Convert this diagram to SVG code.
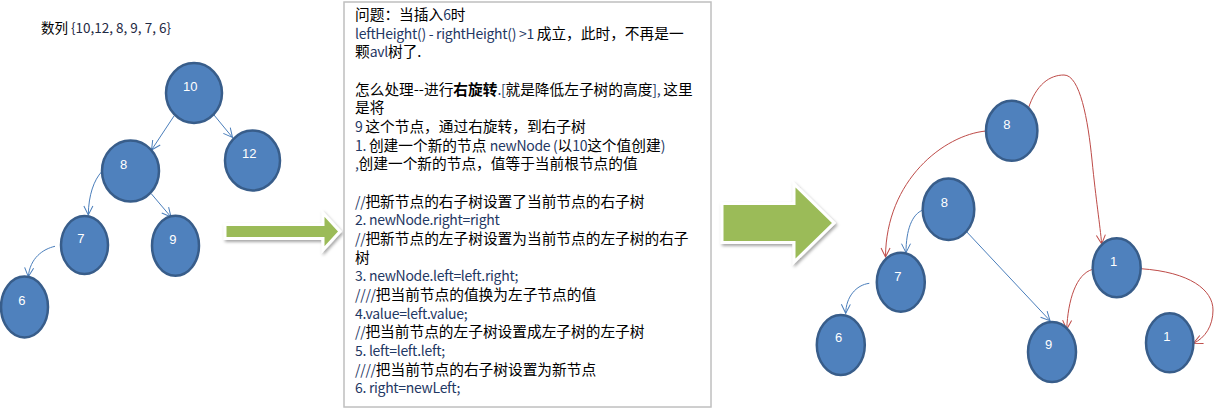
<svg xmlns="http://www.w3.org/2000/svg" width="1214" height="409" viewBox="0 0 1214 409">
<style>
.nd{fill:#4F81BD;stroke:#385D8A;stroke-width:2.5}
.nl{font-family:"Liberation Sans",Arial,sans-serif;font-size:13px;fill:#fff}
.eb{fill:none;stroke:#4A7EBB;stroke-width:1;marker-end:url(#ab)}
.er{fill:none;stroke:#BE4B48;stroke-width:1;marker-end:url(#ar)}
.t{font-family:"Noto Sans CJK SC","Liberation Sans",sans-serif;font-size:14.7px;fill:#000}
.b{fill:#1F3864;font-size:14px;letter-spacing:-0.3px}
.ga{fill:#9BBB59;stroke:#fff;stroke-width:3;stroke-linejoin:miter;filter:url(#sh)}
</style>
<defs>
<marker id="ab" markerWidth="12" markerHeight="12" viewBox="-10 -6 12 12" refX="0" refY="0" orient="auto" markerUnits="userSpaceOnUse"><path d="M-9,-4.5 L0,0 L-9,4.5" fill="none" stroke="#4A7EBB" stroke-width="1"/></marker>
<marker id="ar" markerWidth="12" markerHeight="12" viewBox="-10 -6 12 12" refX="0" refY="0" orient="auto" markerUnits="userSpaceOnUse"><path d="M-9,-4.5 L0,0 L-9,4.5" fill="none" stroke="#BE4B48" stroke-width="1"/></marker>
<filter id="sh" x="-20%" y="-30%" width="150%" height="170%"><feDropShadow dx="1.5" dy="2" stdDeviation="1.5" flood-color="#000" flood-opacity="0.35"/></filter>
</defs>
<rect width="1214" height="409" fill="#fff"/>

<text class="t" x="41" y="32.5" style="font-size:13.5px">数列 <tspan fill="#1F2A44">{10,12, 8, 9, 7, 6}</tspan></text>

<g id="connectors">
<path class="eb" d="M174,116 L151.5,150"/>
<path class="eb" d="M214,115 L232.5,137.5"/>
<path class="eb" d="M101.7,171.7 C94,180 88.5,195 88.3,215"/>
<path class="eb" d="M151.5,194 L171,217"/>
<path class="eb" d="M55,246.3 C43,249 30,258 28.3,276.7"/>
<path class="er" d="M1028,109.5 C1036,84 1050,75 1064,75 C1080,75 1088,120 1092,160 C1096,200 1100,225 1101.7,244"/>
<path class="er" d="M986,131 C944,135 886,180 885.5,257"/>
<path class="eb" d="M923,210 C912,214 906,230 906,252.7"/>
<path class="eb" d="M965,230 L1050,320.7"/>
<path class="eb" d="M869.3,283.3 C856,285 846,297 845.7,313.3"/>
<path class="er" d="M1092.7,269.3 C1076,274 1068,300 1066.7,329.3"/>
<path class="er" d="M1140.7,268.7 C1190,272 1213,290 1213,310 C1213,326 1205,338 1193.5,343.3"/>
</g>

<g id="arrow1"><polygon class="ga" points="225,224.5 323,224.5 323,213 340,231.5 323,250 323,238.5 225,238.5"/></g>
<g id="arrow2"><polygon class="ga" points="722,203.5 794,203.5 794,184 834,223 794,262 794,242.5 722,242.5"/></g>

<g id="n10"><ellipse class="nd" cx="194" cy="93" rx="28" ry="30"/><text class="nl" x="183" y="91">10</text></g>
<g id="n12"><ellipse class="nd" cx="252.5" cy="160.5" rx="27.5" ry="30"/><text class="nl" x="242" y="158.3">12</text></g>
<g id="n8"><ellipse class="nd" cx="130.5" cy="171" rx="28.5" ry="30.5"/><text class="nl" x="120" y="169.3">8</text></g>
<g id="n7"><ellipse class="nd" cx="84.5" cy="245" rx="23.5" ry="29"/><text class="nl" x="77.3" y="242.7">7</text></g>
<g id="n9"><ellipse class="nd" cx="175.5" cy="245.7" rx="23.5" ry="30"/><text class="nl" x="169.3" y="244">9</text></g>
<g id="n6"><ellipse class="nd" cx="24.5" cy="307" rx="23.5" ry="30.5"/><text class="nl" x="18.3" y="305">6</text></g>

<g id="textbox">
<rect x="344" y="2" width="367" height="405" fill="#fff" stroke="#BFBFBF" stroke-width="1.5"/>
<text class="t" x="355" y="20">问题：当插入<tspan class="b">6</tspan>时</text>
<text class="t" x="355" y="38.7"><tspan class="b">leftHeight() - rightHeight() &gt;1 </tspan>成立，此时，不再是一</text>
<text class="t" x="355" y="57.3">颗<tspan class="b">avl</tspan>树了.</text>
<text class="t" x="355" y="94.7">怎么处理--进行<tspan font-weight="bold">右旋转</tspan><tspan class="b">.[</tspan>就是降低左子树的高度<tspan class="b">], </tspan>这里</text>
<text class="t" x="355" y="113.3">是将</text>
<text class="t" x="355" y="132"><tspan class="b">9 </tspan>这个节点，通过右旋转，到右子树</text>
<text class="t" x="355" y="150.7"><tspan class="b">1. </tspan>创建一个新的节点 <tspan class="b">newNode (</tspan>以<tspan class="b">10</tspan>这个值创建<tspan class="b">)</tspan></text>
<text class="t" x="355" y="169.3"><tspan class="b">,</tspan>创建一个新的节点，值等于当前根节点的值</text>
<text class="t" x="355" y="206.7"><tspan class="b">//</tspan>把新节点的右子树设置了当前节点的右子树</text>
<text class="t b" x="355" y="225.3">2. newNode.right=right</text>
<text class="t" x="355" y="244"><tspan class="b">//</tspan>把新节点的左子树设置为当前节点的左子树的右子</text>
<text class="t" x="355" y="262.7">树</text>
<text class="t b" x="355" y="281.3">3. newNode.left=left.right;</text>
<text class="t" x="355" y="300"><tspan class="b">////</tspan>把当前节点的值换为左子节点的值</text>
<text class="t b" x="355" y="318.7">4.value=left.value;</text>
<text class="t" x="355" y="337.3"><tspan class="b">//</tspan>把当前节点的左子树设置成左子树的左子树</text>
<text class="t b" x="355" y="356">5. left=left.left;</text>
<text class="t" x="355" y="374.7"><tspan class="b">////</tspan>把当前节点的右子树设置为新节点</text>
<text class="t b" x="355" y="393.3">6. right=newLeft;</text>
</g>

<g id="r8a"><ellipse class="nd" cx="1011.7" cy="130.8" rx="25.7" ry="30"/><text class="nl" x="1003.3" y="129.3">8</text></g>
<g id="r8b"><ellipse class="nd" cx="948.5" cy="209.3" rx="25.8" ry="30.7"/><text class="nl" x="940.7" y="207.3">8</text></g>
<g id="r7"><ellipse class="nd" cx="900.8" cy="282.2" rx="24" ry="29.5"/><text class="nl" x="894.3" y="281">7</text></g>
<g id="r6"><ellipse class="nd" cx="840.8" cy="345" rx="24" ry="30"/><text class="nl" x="835" y="342.3">6</text></g>
<g id="r9"><ellipse class="nd" cx="1052" cy="352" rx="24" ry="30"/><text class="nl" x="1045" y="349">9</text></g>
<g id="r1a"><ellipse class="nd" cx="1116.7" cy="267.8" rx="24" ry="29.5"/><text class="nl" x="1110" y="266">1</text></g>
<g id="r1b"><ellipse class="nd" cx="1169.7" cy="342.8" rx="23.7" ry="29.5"/><text class="nl" x="1163.3" y="341">1</text></g>
</svg>
